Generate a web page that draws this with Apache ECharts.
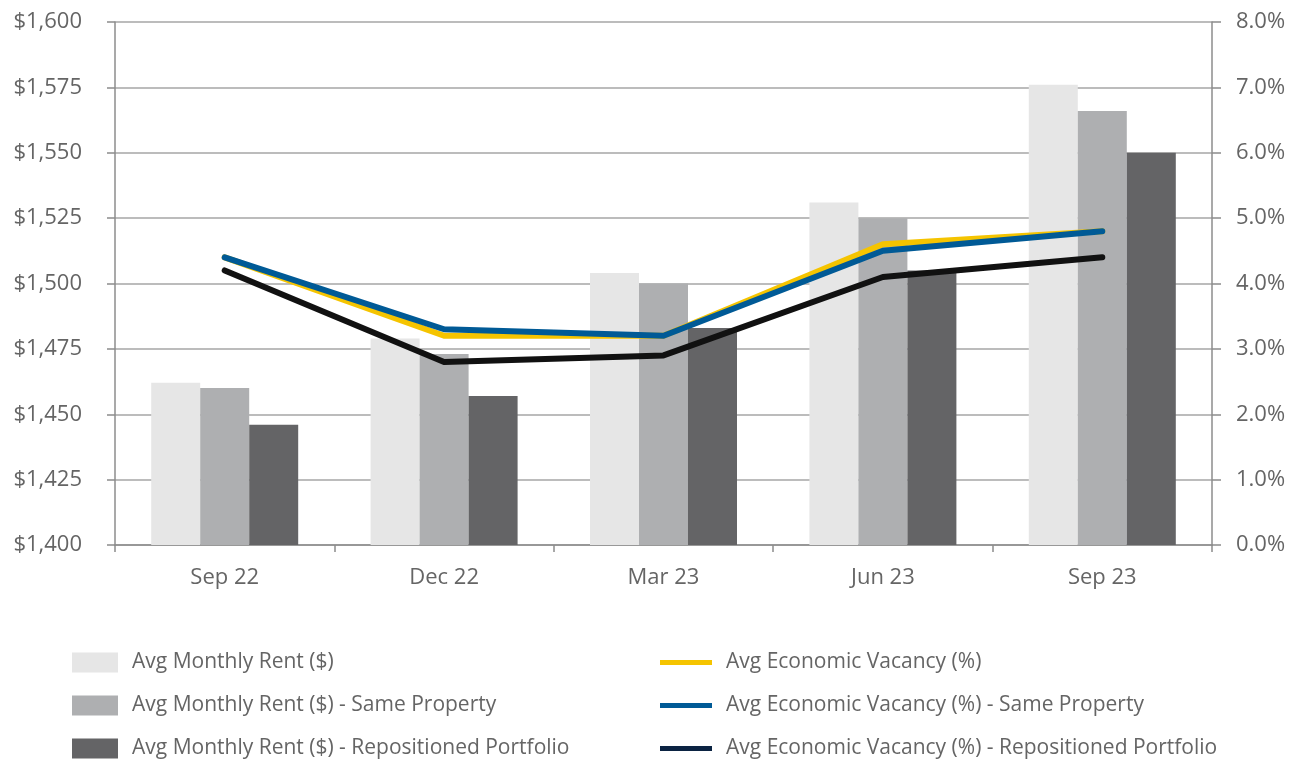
<!DOCTYPE html>
<html>
<head>
<meta charset="utf-8">
<script src="https://cdn.jsdelivr.net/npm/echarts@6/dist/echarts.min.js"></script>
<style>
  html, body { margin: 0; padding: 0; background: #fff; }
  #chart { width: 1301px; height: 759px; }
</style>
</head>
<body>
<div id="chart"></div>
<script>
const quarters = ["Sep 22", "Dec 22", "Mar 23", "Jun 23", "Sep 23"];

// rent ($), left axis
const rentAll = [1462, 1479, 1504, 1531, 1576];
const rentSame = [1460, 1473, 1500, 1525, 1566];
const rentRepos = [1446, 1457, 1483, 1505, 1550];

// economic vacancy (%), right axis
const vacAll = [4.4, 3.2, 3.2, 4.6, 4.8];
const vacSame = [4.4, 3.3, 3.2, 4.5, 4.8];
const vacRepos = [4.2, 2.8, 2.9, 4.1, 4.4];

const textColor = "#656565";
const font = "'Open Sans', sans-serif";

const chart = echarts.init(document.getElementById("chart"));

function barSeries(name, data, color) {
  return {
    name,
    type: "bar",
    data,
    barGap: "0%",
    barCategoryGap: "33%",
    itemStyle: { color },
    z: 2
  };
}

function lineSeries(name, data, color) {
  return {
    name,
    type: "line",
    yAxisIndex: 1,
    data,
    symbol: "none",
    lineStyle: { color, width: 6, cap: "round", join: "round" },
    itemStyle: { color },
    z: 3
  };
}

const legendText = { color: textColor, fontSize: 21, fontFamily: font, padding: [0, 0, 0, 9] };

chart.setOption({
  animation: false,
  textStyle: { fontFamily: font },
  grid: { left: 115, right: 89, top: 22, bottom: 214 },
  legend: [
    {
      left: 72,
      top: 652,
      height: 130,
      padding: 0,
      orient: "vertical",
      itemWidth: 46,
      itemHeight: 20,
      itemGap: 22,
      icon: "rect",
      textStyle: legendText,
      data: [
        "Avg Monthly Rent ($)",
        "Avg Monthly Rent ($) - Same Property",
        "Avg Monthly Rent ($) - Repositioned Portfolio"
      ]
    },
    {
      left: 660,
      top: 652,
      height: 130,
      padding: 0,
      orient: "vertical",
      itemWidth: 52,
      itemHeight: 5,
      itemGap: 22,
      icon: "rect",
      textStyle: legendText,
      data: [
        "Avg Economic Vacancy (%)",
        "Avg Economic Vacancy (%) - Same Property",
        { name: "Avg Economic Vacancy (%) - Repositioned Portfolio", itemStyle: { color: "#0b2342" } }
      ]
    }
  ],
  xAxis: {
    type: "category",
    data: quarters,
    axisLine: { lineStyle: { color: "#8c8c8c", width: 1.5 } },
    axisTick: { show: true, length: 7, lineStyle: { color: "#8c8c8c", width: 1.5 } },
    axisLabel: { color: textColor, fontSize: 22, margin: 22 }
  },
  yAxis: [
    {
      type: "value",
      min: 1400,
      max: 1600,
      interval: 25,
      axisLine: { show: true, lineStyle: { color: "#8c8c8c", width: 1.5 } },
      axisTick: { show: true, length: 8, lineStyle: { color: "#8c8c8c", width: 1.5 } },
      splitLine: { lineStyle: { color: "#a6a6a6", width: 1.5 } },
      axisLabel: {
        color: textColor,
        fontSize: 22,
        margin: 33,
        formatter: v => "$" + v.toLocaleString("en-US")
      }
    },
    {
      type: "value",
      min: 0,
      max: 8,
      interval: 1,
      position: "right",
      axisLine: { show: true, lineStyle: { color: "#8c8c8c", width: 1.5 } },
      axisTick: { show: true, length: 9, lineStyle: { color: "#8c8c8c", width: 1.5 } },
      splitLine: { show: false },
      axisLabel: {
        color: textColor,
        fontSize: 22,
        margin: 24,
        formatter: v => v.toFixed(1) + "%"
      }
    }
  ],
  series: [
    barSeries("Avg Monthly Rent ($)", rentAll, "#e6e6e6"),
    barSeries("Avg Monthly Rent ($) - Same Property", rentSame, "#aeafb1"),
    barSeries("Avg Monthly Rent ($) - Repositioned Portfolio", rentRepos, "#646466"),
    lineSeries("Avg Economic Vacancy (%)", vacAll, "#f5c400"),
    lineSeries("Avg Economic Vacancy (%) - Same Property", vacSame, "#005a96"),
    lineSeries("Avg Economic Vacancy (%) - Repositioned Portfolio", vacRepos, "#111111")
  ]
});
</script>
</body>
</html>
